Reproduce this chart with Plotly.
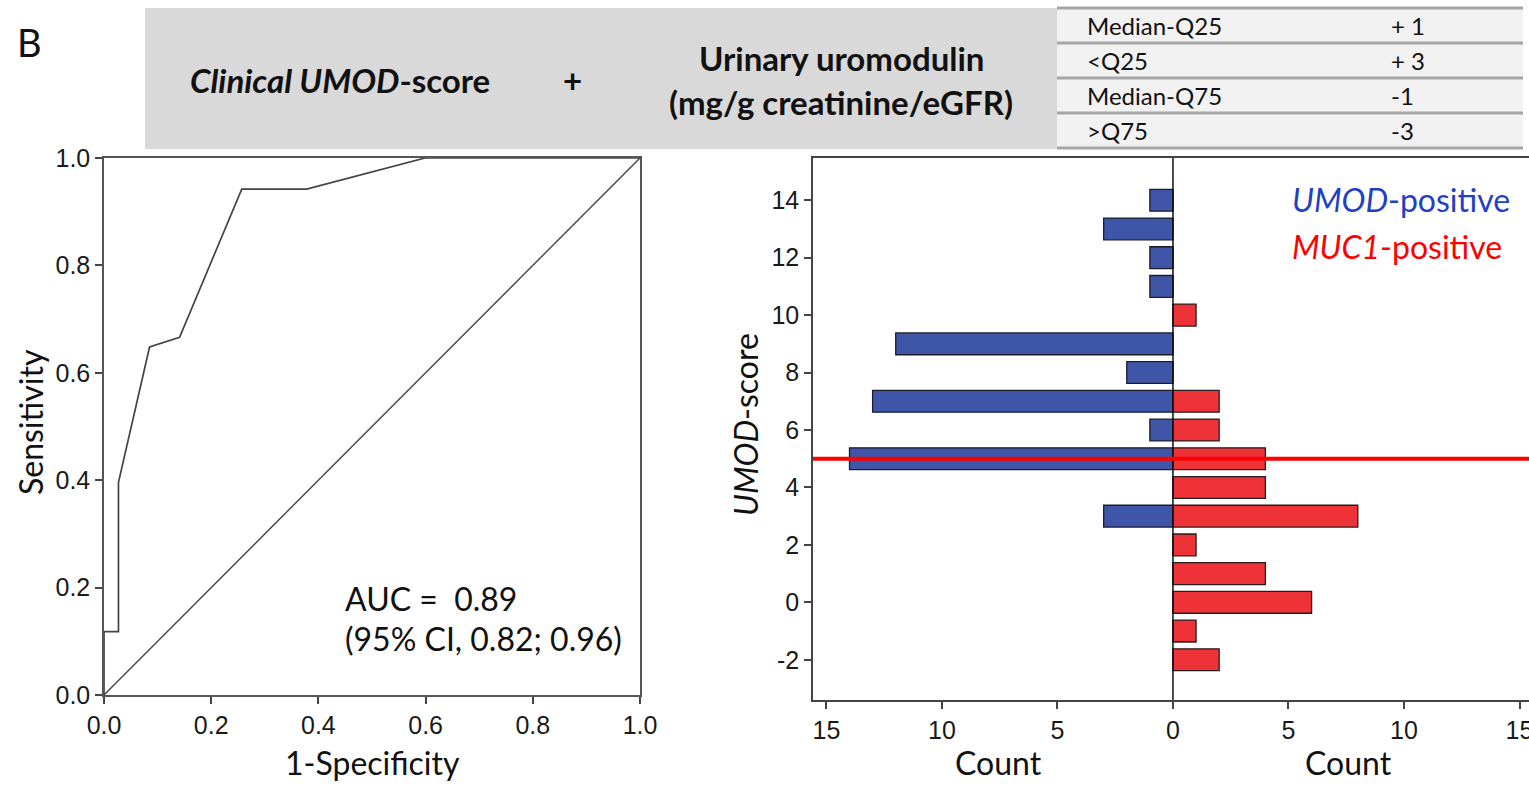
import plotly.graph_objects as go

W, H = 1529, 785

# ---------------- data ----------------
roc_fpr = [0.0, 0.0, 0.027, 0.027, 0.085, 0.141, 0.257, 0.378, 0.599, 1.0]
roc_tpr = [0.0, 0.118, 0.118, 0.396, 0.648, 0.666, 0.942, 0.942, 1.0, 1.0]
auc_text = ["AUC =  0.89", "(95% CI, 0.82; 0.96)"]

scores = [14, 13, 12, 11, 10, 9, 8, 7, 6, 5, 4, 3, 2, 1, 0, -1, -2]
umod_counts = [1, 3, 1, 1, 0, 12, 2, 13, 1, 14, 0, 3, 0, 0, 0, 0, 0]
muc1_counts = [0, 0, 0, 0, 1, 0, 0, 2, 2, 4, 4, 8, 1, 4, 6, 1, 2]
cutoff_score = 5

count_ticks = [-15, -10, -5, 0, 5, 10, 15]
count_ticktext = ["15", "10", "5", "0", "5", "10", "15"]
score_ticks = [-2, 0, 2, 4, 6, 8, 10, 12, 14]
score_ticktext = ["-2", "0", "2", "4", "6", "8", "10", "12", "14"]
roc_ticks = [0.0, 0.2, 0.4, 0.6, 0.8, 1.0]

table_labels = ["Median-Q25", "<Q25", "Median-Q75", ">Q75"]
table_points = ["+ 1", "+ 3", "-1", "-3"]

# ---------------- helpers ----------------
def px(x):
    return x / W

def py(y):
    return 1 - y / H

TICK_FONT = dict(family="Liberation Sans, Arial, sans-serif", size=25, color="#1a1a1a")
TXT = "Lato, Open Sans, sans-serif"

fig = go.Figure()

# ROC
fig.add_trace(go.Scatter(x=[0, 1], y=[0, 1], mode="lines",
                         line=dict(color="#444", width=1.4),
                         xaxis="x", yaxis="y", showlegend=False, hoverinfo="skip"))
fig.add_trace(go.Scatter(x=roc_fpr, y=roc_tpr, mode="lines",
                         line=dict(color="#444", width=1.7),
                         xaxis="x", yaxis="y", showlegend=False))

# Histogram
fig.add_trace(go.Bar(y=scores, x=[-c for c in umod_counts], base=0, orientation="h",
                     width=0.76, marker=dict(color="#3f55a8", line=dict(color="#1c1c2a", width=1.3)),
                     xaxis="x2", yaxis="y2", showlegend=False))
fig.add_trace(go.Bar(y=scores, x=muc1_counts, base=0, orientation="h",
                     width=0.76, marker=dict(color="#ee3338", line=dict(color="#2a1c1c", width=1.3)),
                     xaxis="x2", yaxis="y2", showlegend=False))

shapes = []
# header gray box
shapes.append(dict(type="rect", xref="paper", yref="paper",
                   x0=px(145), x1=px(1057), y0=py(149), y1=py(8),
                   fillcolor="#d9d9d9", line=dict(width=0), layer="below"))
# table background
shapes.append(dict(type="rect", xref="paper", yref="paper",
                   x0=px(1057), x1=px(1523), y0=py(149), y1=py(8),
                   fillcolor="#f2f2f2", line=dict(width=0), layer="below"))
for yl in [8, 43, 78, 113, 148]:
    shapes.append(dict(type="line", xref="paper", yref="paper",
                       x0=px(1057), x1=px(1523), y0=py(yl), y1=py(yl),
                       line=dict(color="#a6a6a6", width=3)))
# zero line of histogram
shapes.append(dict(type="line", xref="x2", yref="y2 domain", x0=0, x1=0, y0=0, y1=1,
                   line=dict(color="#111", width=1.5), layer="above"))
# cutoff line
shapes.append(dict(type="line", xref="x2 domain", yref="y2", x0=0, x1=1,
                   y0=cutoff_score, y1=cutoff_score,
                   line=dict(color="#ff0000", width=4), layer="above"))

ann = []
def text(x, y, s, size=28, color="#111", xanchor="center", yanchor="middle", angle=0, family=TXT):
    ann.append(dict(x=px(x), y=py(y), xref="paper", yref="paper", text=s, showarrow=False,
                    xanchor=xanchor, yanchor=yanchor, textangle=angle,
                    font=dict(family=family, size=size, color=color)))

text(30, 42, "B", size=38)
text(340, 80, "<b><i>Clinical UMOD</i>-score</b>", size=33)
text(572, 80, "<b>+</b>", size=33)
text(841, 58, "<b>Urinary uromodulin</b>", size=33)
text(841, 102, "<b>(mg/g creatinine/eGFR)</b>", size=33)
for i, (lab, pt) in enumerate(zip(table_labels, table_points)):
    yc = 26 + 35 * i
    text(1085, yc, lab, size=24, xanchor="left")
    text(1389, yc, pt, size=24, xanchor="left")

text(343, 598, auc_text[0], size=32, xanchor="left")
text(343, 638, auc_text[1], size=32, xanchor="left")
text(372, 762, "1-Specificity", size=32)
text(30, 422, "Sensitivity", size=32, angle=-90)
text(745, 425, "<i>UMOD</i>-score", size=32, angle=-90)
text(998, 762, "Count", size=32)
text(1348, 762, "Count", size=32)
text(1290, 200, "<i>UMOD</i>-positive", size=32, color="#1f3fc6", xanchor="left")
text(1290, 247, "<i>MUC1</i>-positive", size=32, color="#ff0000", xanchor="left")

axis_common = dict(showgrid=False, zeroline=False, ticks="outside", ticklen=7,
                   tickwidth=1.5, tickcolor="#444", tickfont=TICK_FONT, showline=True,
                   automargin=False, ticklabeloverflow="allow")

fig.update_layout(
    template="none",
    width=W, height=H, margin=dict(l=0, r=0, t=0, b=0, autoexpand=False),
    paper_bgcolor="white", plot_bgcolor="white",
    barmode="overlay", shapes=shapes, annotations=ann,
    xaxis=dict(domain=[px(104), px(640)], range=[0, 1], tickvals=roc_ticks, tickformat=".1f",
               mirror=True, linecolor="#555", linewidth=1.5, anchor="y", **axis_common),
    yaxis=dict(domain=[py(695), py(158)], range=[0, 1], tickvals=roc_ticks, tickformat=".1f",
               mirror=True, linecolor="#555", linewidth=1.5, anchor="x", **axis_common),
    xaxis2=dict(domain=[px(813), 1.0], range=[-15.58, 15.41], tickvals=count_ticks,
                ticktext=count_ticktext, mirror=True, linecolor="#444", linewidth=1.5,
                anchor="y2", **axis_common),
    yaxis2=dict(domain=[py(700), py(158)], range=[-3.4, 15.47], tickvals=score_ticks,
                ticktext=score_ticktext, linecolor="#444", linewidth=1.5, anchor="x2",
                **axis_common),
)

fig.write_html("out.html", config={"displayModeBar": False},
               post_script="document.body.style.margin='0';document.body.style.overflow='hidden';")
